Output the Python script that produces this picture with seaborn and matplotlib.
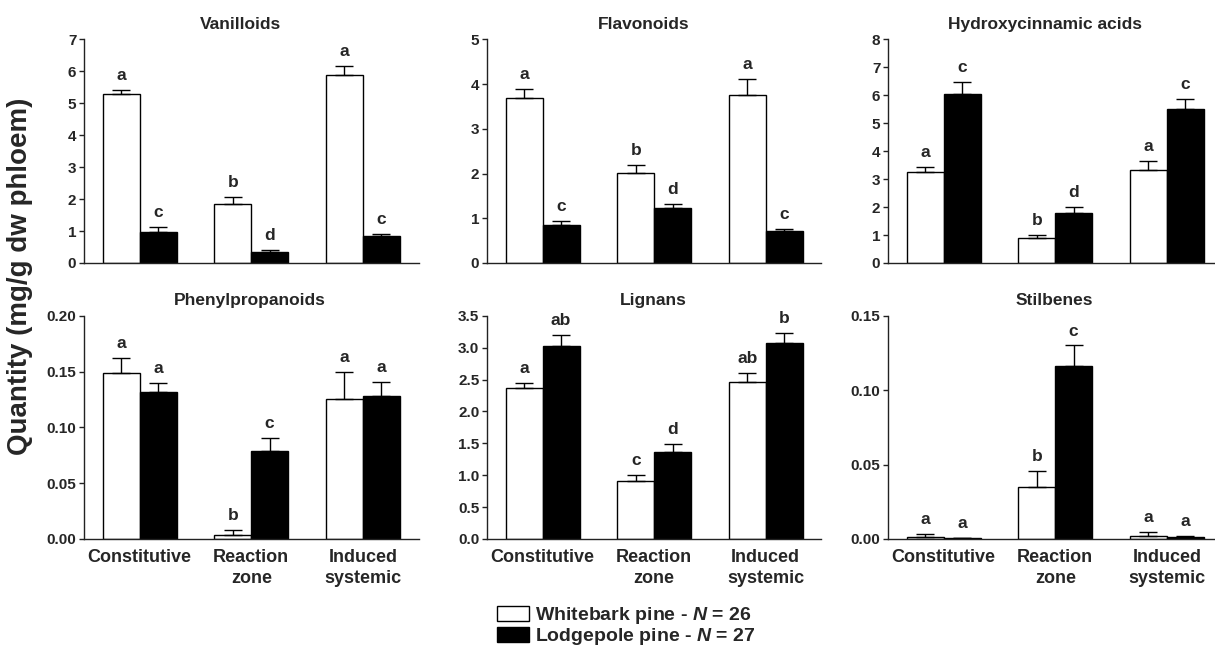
import numpy as np
import pandas as pd
import matplotlib
matplotlib.use("Agg")
import matplotlib.pyplot as plt
import seaborn as sns
from matplotlib.ticker import FormatStrFormatter

# ---------------- data ----------------
categories = ["Constitutive", "Reaction\nzone", "Induced\nsystemic"]
species = ["Whitebark pine", "Lodgepole pine"]
sample_sizes = [26, 27]

titles = ["Vanilloids", "Flavonoids", "Hydroxycinnamic acids",
          "Phenylpropanoids", "Lignans", "Stilbenes"]

vanilloids_white = [5.28, 1.86, 5.89]
vanilloids_white_se = [0.13, 0.20, 0.27]
vanilloids_lodge = [0.98, 0.345, 0.83]
vanilloids_lodge_se = [0.15, 0.07, 0.09]
vanilloids_letters_white = ["a", "b", "a"]
vanilloids_letters_lodge = ["c", "d", "c"]

flavonoids_white = [3.69, 2.01, 3.75]
flavonoids_white_se = [0.20, 0.18, 0.36]
flavonoids_lodge = [0.86, 1.23, 0.71]
flavonoids_lodge_se = [0.07, 0.08, 0.06]
flavonoids_letters_white = ["a", "b", "a"]
flavonoids_letters_lodge = ["c", "d", "c"]

hydroxy_white = [3.24, 0.88, 3.32]
hydroxy_white_se = [0.20, 0.12, 0.32]
hydroxy_lodge = [6.04, 1.79, 5.49]
hydroxy_lodge_se = [0.44, 0.22, 0.36]
hydroxy_letters_white = ["a", "b", "a"]
hydroxy_letters_lodge = ["c", "d", "c"]

phenyl_white = [0.149, 0.004, 0.1257]
phenyl_white_se = [0.013, 0.004, 0.0236]
phenyl_lodge = [0.1313, 0.0785, 0.128]
phenyl_lodge_se = [0.0087, 0.0116, 0.013]
phenyl_letters_white = ["a", "b", "a"]
phenyl_letters_lodge = ["a", "c", "a"]

lignans_white = [2.37, 0.904, 2.456]
lignans_white_se = [0.075, 0.094, 0.14]
lignans_lodge = [3.03, 1.364, 3.067]
lignans_lodge_se = [0.17, 0.12, 0.157]
lignans_letters_white = ["a", "c", "ab"]
lignans_letters_lodge = ["ab", "d", "b"]

stilbenes_white = [0.0016, 0.0349, 0.0022]
stilbenes_white_se = [0.0015, 0.011, 0.0025]
stilbenes_lodge = [0.0007, 0.116, 0.0011]
stilbenes_lodge_se = [0.0003, 0.014, 0.0011]
stilbenes_letters_white = ["a", "b", "a"]
stilbenes_letters_lodge = ["a", "c", "a"]

y_limits = [7, 5, 8, 0.20, 3.5, 0.15]
y_steps = [1, 1, 1, 0.05, 0.5, 0.05]
y_formats = ["%d", "%d", "%d", "%.2f", "%.1f", "%.2f"]

# ---------------- style ----------------
sns.set_style("ticks")
plt.rcParams["font.family"] = ["Liberation Sans", "DejaVu Sans"]
plt.rcParams["font.weight"] = "bold"
plt.rcParams["axes.titleweight"] = "bold"
plt.rcParams["axes.labelweight"] = "bold"
plt.rcParams["mathtext.fontset"] = "custom"
plt.rcParams["mathtext.rm"] = "Liberation Sans"
plt.rcParams["mathtext.it"] = "Liberation Sans:italic"
plt.rcParams["mathtext.bf"] = "Liberation Sans:bold"
use_bfit = True
try:
    plt.rcParams["mathtext.bfit"] = "Liberation Sans:italic:bold"
except Exception:
    use_bfit = False

fig = plt.figure(figsize=(12.15, 6.53), dpi=100)
W, H = 1215.0, 653.0
lefts = [84, 487, 888]
width_px = 334.5
rows = [(263, 223.7), (539, 223.3)]
title_x = [0.469, 0.497]

panels = [
    (vanilloids_white, vanilloids_white_se, vanilloids_lodge, vanilloids_lodge_se,
     vanilloids_letters_white, vanilloids_letters_lodge),
    (flavonoids_white, flavonoids_white_se, flavonoids_lodge, flavonoids_lodge_se,
     flavonoids_letters_white, flavonoids_letters_lodge),
    (hydroxy_white, hydroxy_white_se, hydroxy_lodge, hydroxy_lodge_se,
     hydroxy_letters_white, hydroxy_letters_lodge),
    (phenyl_white, phenyl_white_se, phenyl_lodge, phenyl_lodge_se,
     phenyl_letters_white, phenyl_letters_lodge),
    (lignans_white, lignans_white_se, lignans_lodge, lignans_lodge_se,
     lignans_letters_white, lignans_letters_lodge),
    (stilbenes_white, stilbenes_white_se, stilbenes_lodge, stilbenes_lodge_se,
     stilbenes_letters_white, stilbenes_letters_lodge),
]

axes = []
for k, (wv, wse, lv, lse, lw_, ll_) in enumerate(panels):
    r, c = divmod(k, 3)
    bot_px, h_px = rows[r]
    ax = fig.add_axes([lefts[c] / W, 1 - bot_px / H, width_px / W, h_px / H])
    axes.append(ax)
    df = pd.DataFrame({
        "Stage": categories * 2,
        "Species": [species[0]] * 3 + [species[1]] * 3,
        "Quantity": list(wv) + list(lv),
    })
    sns.barplot(data=df, x="Stage", y="Quantity", hue="Species",
                order=categories, hue_order=species,
                palette=["white", "black"], saturation=1,
                edgecolor="black", linewidth=1.0, width=0.66,
                errorbar=None, legend=False, ax=ax)
    for cont, vals, errs, lets in zip(ax.containers, [wv, lv], [wse, lse], [lw_, ll_]):
        xs = [b.get_x() + b.get_width() / 2 for b in cont]
        ax.errorbar(xs, vals, yerr=[np.zeros(len(vals)), errs], fmt="none",
                    ecolor="black", elinewidth=1.0, capsize=6.5, capthick=1.0)
        for x, v, e, t in zip(xs, vals, errs, lets):
            ax.annotate(t, (x, v + e), xytext=(0, 5), textcoords="offset points",
                        ha="center", va="bottom", fontsize=12.5, fontweight="bold")
    ax.set_xlim(-0.5, 2.5)
    ymax = y_limits[k]
    ax.set_ylim(0, ymax)
    ax.set_yticks(np.arange(0, ymax + y_steps[k] / 2, y_steps[k]))
    ax.yaxis.set_major_formatter(FormatStrFormatter(y_formats[k]))
    ax.set_xlabel("")
    ax.set_ylabel("")
    ax.set_title(titles[k], fontsize=12.5, fontweight="bold", pad=7.5, x=title_x[r])
    sns.despine(ax=ax)
    for s in ["left", "bottom"]:
        ax.spines[s].set_linewidth(1.0)
        ax.spines[s].set_color("#222222")
    ax.tick_params(axis="y", direction="out", length=3.5, width=1.0, labelsize=11, pad=2, color="#222222")
    ax.tick_params(axis="x", length=0, labelsize=13, pad=7)
    if r == 0:
        ax.tick_params(axis="x", labelbottom=False)
    else:
        for lab in ax.get_xticklabels():
            lab.set_fontweight("bold")
            lab.set_linespacing(1.3)
    for lab in ax.get_yticklabels():
        lab.set_fontweight("bold")

fig.text(20 / W, 1 - 276 / H, "Quantity (mg/g dw phloem)", rotation=90,
         ha="center", va="center", fontsize=20, fontweight="bold")

nsym = r"$\mathbfit{N}$" if use_bfit else r"$\mathit{N}$"
leg_labels = [f"{sp} - {nsym} = {n}" for sp, n in zip(species, sample_sizes)]
handles = [axes[0].containers[0][0], axes[0].containers[1][0]]
fig.legend(handles=handles, labels=leg_labels, loc="upper left",
           bbox_to_anchor=(497 / W, 1 - 605 / H), frameon=False,
           fontsize=14, borderpad=0, handlelength=1.65, handleheight=0.85,
           handletextpad=0.3, labelspacing=0.0, borderaxespad=0)

fig.savefig("out.png", dpi=100)
